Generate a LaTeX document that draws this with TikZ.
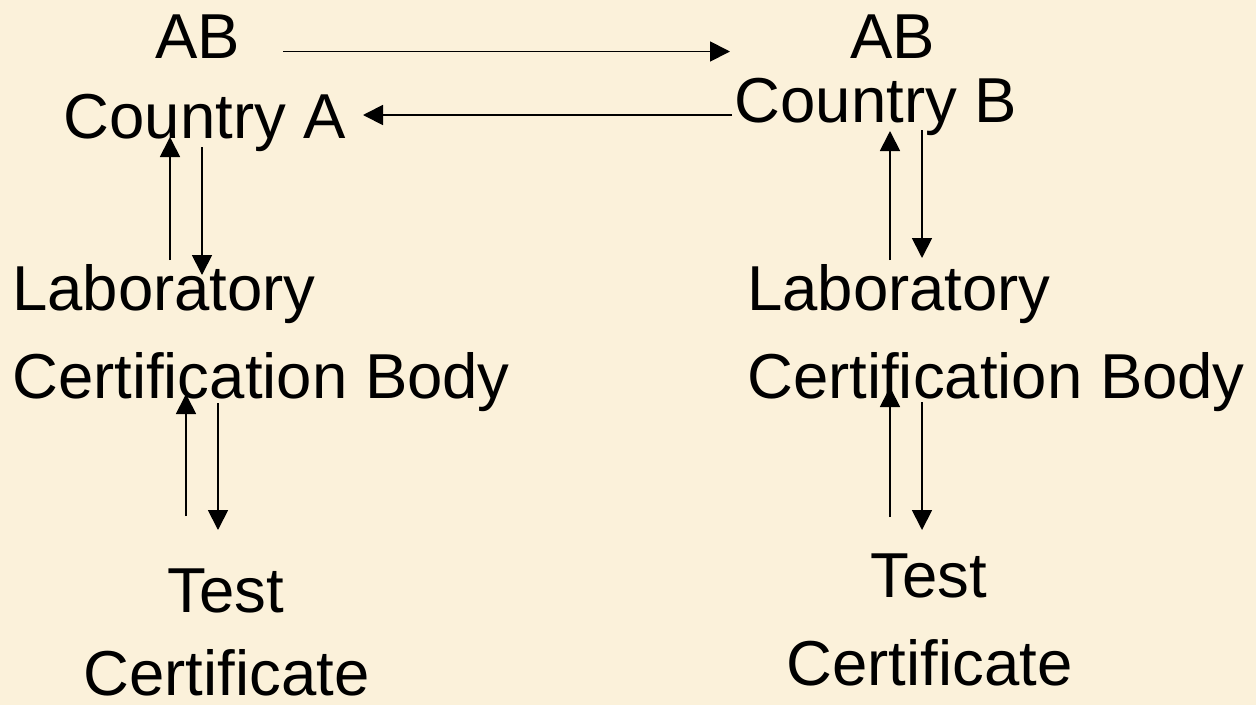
\documentclass[tikz,border=0pt]{standalone}
\usepackage{fontspec}
\setmainfont{Liberation Sans}
\definecolor{parchment}{RGB}{251,241,218}
\usetikzlibrary{arrows.meta}

\begin{document}
\begin{tikzpicture}[x=1pt,y=-1pt,
    every node/.style={inner sep=0pt,font=\fontsize{63.5}{76}\selectfont},
    ctr/.style={anchor=base},
    lft/.style={anchor=base west},
    arr/.style={line width=1.8pt,-{Triangle[length=20pt,width=20pt]}}
    ]
    \fill[parchment] (0,0) rectangle (1256,705);
    \useasboundingbox (0,0) rectangle (1256,705);

    % country A side
    \node (abA) [ctr] at (197.5,58) {AB};
    \node (ctryA) [ctr] at (205,138) {Country A};
    \node (labA) [lft] at (12,310) {Laboratory};
    \node (cbA) [lft] at (12,398) {Certification Body};
    \node (testA) [ctr] at (226,612) {Test};
    \node (certA) [ctr] at (226.5,695) {Certificate};

    % country B side
    \node (abB) [ctr] at (892.5,58) {AB};
    \node (ctryB) [ctr] at (876,122) {Country B};
    \node (labB) [lft] at (747,310) {Laboratory};
    \node (cbB) [lft] at (747,398) {Certification Body};
    \node (testB) [ctr] at (929,597) {Test};
    \node (certB) [ctr] at (929.5,685) {Certificate};

    % arrow ends
    \coordinate (h1) at (283,51.5);
    \coordinate (h2) at (730,51.5);
    \coordinate (h3) at (732,115);
    \coordinate (h4) at (363,115);
    \coordinate (a1) at (170,260);
    \coordinate (a2) at (170,137);
    \coordinate (a3) at (202,147);
    \coordinate (a4) at (202,275);
    \coordinate (a5) at (186,516);
    \coordinate (a6) at (186,394);
    \coordinate (a7) at (218,403);
    \coordinate (a8) at (218,530);
    \coordinate (b1) at (890,260);
    \coordinate (b2) at (890,131);
    \coordinate (b3) at (922,130);
    \coordinate (b4) at (922,258);
    \coordinate (b5) at (890,517);
    \coordinate (b6) at (890,387);
    \coordinate (b7) at (922,402);
    \coordinate (b8) at (922,530);

    % the arrows
    \draw[arr] (h1) -- (h2);
    \draw[arr] (h3) -- (h4);
    \draw[arr] (a1) -- (a2);
    \draw[arr] (a3) -- (a4);
    \draw[arr] (a5) -- (a6);
    \draw[arr] (a7) -- (a8);
    \draw[arr] (b1) -- (b2);
    \draw[arr] (b3) -- (b4);
    \draw[arr] (b5) -- (b6);
    \draw[arr] (b7) -- (b8);
\end{tikzpicture}
\end{document}
